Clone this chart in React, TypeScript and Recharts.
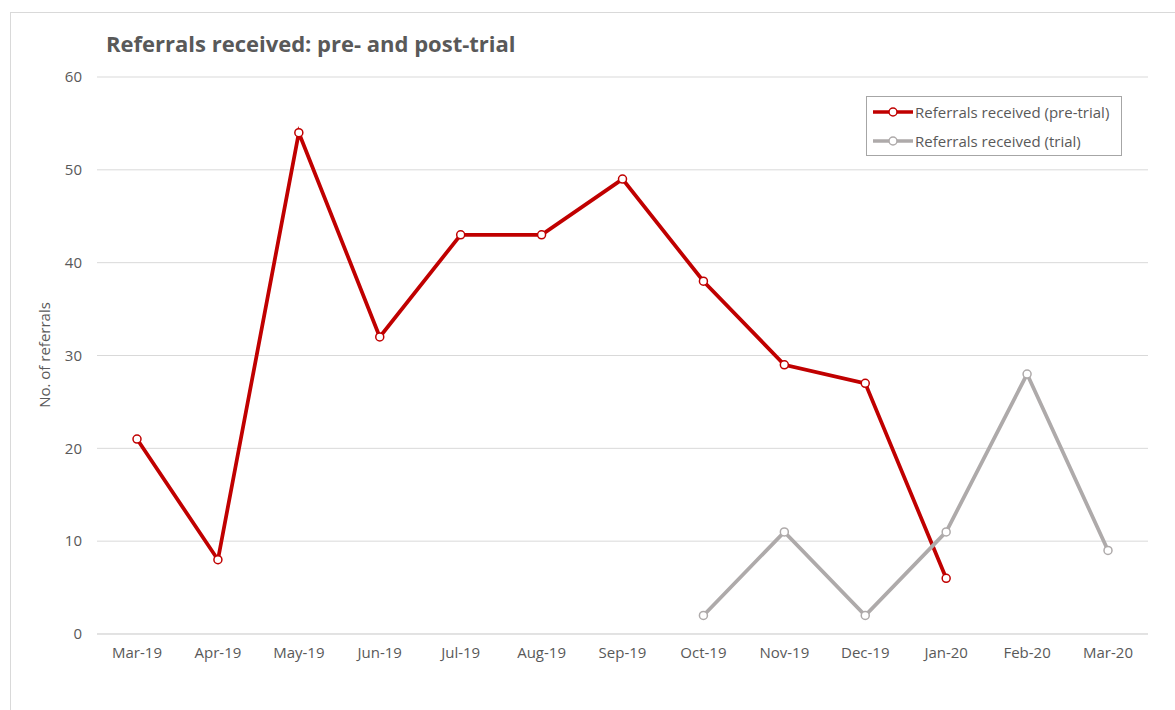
import { LineChart, Line, XAxis, YAxis, CartesianGrid } from "recharts";

const months = [
  "Mar-19", "Apr-19", "May-19", "Jun-19", "Jul-19", "Aug-19", "Sep-19",
  "Oct-19", "Nov-19", "Dec-19", "Jan-20", "Feb-20", "Mar-20",
];
const preTrial: (number | null)[] = [21, 8, 54, 32, 43, 43, 49, 38, 29, 27, 6, null, null];
const trial: (number | null)[] = [null, null, null, null, null, null, null, 2, 11, 2, 11, 28, 9];
const yTicks = [0, 10, 20, 30, 40, 50, 60];

const RED = "#c00000";
const GREY = "#aeaaaa";
const TEXT = "#595959";
const FONT = "'Open Sans', 'Noto Sans', sans-serif";

const data = months.map((m, i) => ({ month: m, pre: preTrial[i], trial: trial[i] }));

function LegendBox() {
  const items = [
    { label: "Referrals received (pre-trial)", color: RED },
    { label: "Referrals received (trial)", color: GREY },
  ];
  return (
    <div
      style={{
        border: "1px solid #a6a6a6",
        width: 256,
        height: 60,
        boxSizing: "border-box",
        paddingLeft: 5,
        fontFamily: FONT,
        fontSize: 15,
        color: TEXT,
      }}
    >
      {items.map((it) => (
        <div key={it.label} style={{ display: "flex", alignItems: "center", height: 29 }}>
          <svg width={42} height={12} style={{ marginRight: 1 }}>
            <line x1={1} y1={6} x2={41} y2={6} stroke={it.color} strokeWidth={3.5} />
            <circle cx={21} cy={6} r={4} fill="#fff" stroke={it.color} strokeWidth={1.5} />
          </svg>
          <span style={{ whiteSpace: "nowrap" }}>{it.label}</span>
        </div>
      ))}
    </div>
  );
}

export default function App() {
  return (
    <div style={{ position: "absolute", left: 0, top: 0, width: 1175, height: 710, background: "#fff" }}>
      <div
        style={{
          position: "absolute",
          left: 10,
          top: 12,
          width: 1175,
          height: 710,
          border: "1px solid #d9d9d9",
        }}
      />
      <div
        style={{
          position: "absolute",
          left: 106,
          top: 28,
          fontFamily: FONT,
          fontWeight: 700,
          fontSize: 22,
          color: TEXT,
          whiteSpace: "nowrap",
        }}
      >
        Referrals received: pre- and post-trial
      </div>
      <div style={{ position: "absolute", left: 0, top: 0 }}>
        <LineChart
          width={1175}
          height={710}
          data={data}
          margin={{ top: 77, right: 27, bottom: 46, left: 50 }}
        >
          <CartesianGrid vertical={false} stroke="#d9d9d9" />
          <XAxis
            dataKey="month"
            tick={{ fill: TEXT, fontSize: 15, fontFamily: FONT }}
            tickLine={false}
            axisLine={{ stroke: "#d9d9d9" }}
            tickMargin={7}
            height={30}
            padding={{ left: 40, right: 40 }}
          />
          <YAxis
            domain={[0, 60]}
            ticks={yTicks}
            tick={{ fill: TEXT, fontSize: 15, fontFamily: FONT }}
            tickLine={false}
            axisLine={false}
            tickMargin={9}
            width={47}
            label={{
              content: () => (
                <text
                  x={0}
                  y={0}
                  transform="translate(50, 355) rotate(-90)"
                  textAnchor="middle"
                  fill={TEXT}
                  fontSize={15}
                  fontFamily={FONT}
                >
                  No. of referrals
                </text>
              ),
            }}
          />
          <Line
            dataKey="pre"
            name="Referrals received (pre-trial)"
            stroke={RED}
            strokeWidth={3.75}
            dot={{ r: 4, fill: "#fff", stroke: RED, strokeWidth: 1.5 }}
            activeDot={false}
            isAnimationActive={false}
          />
          <Line
            dataKey="trial"
            name="Referrals received (trial)"
            stroke={GREY}
            strokeWidth={3.75}
            dot={{ r: 4, fill: "#fff", stroke: GREY, strokeWidth: 1.5 }}
            activeDot={false}
            isAnimationActive={false}
          />
        </LineChart>
      </div>
      <div style={{ position: "absolute", left: 866, top: 96 }}>
        <LegendBox />
      </div>
    </div>
  );
}
